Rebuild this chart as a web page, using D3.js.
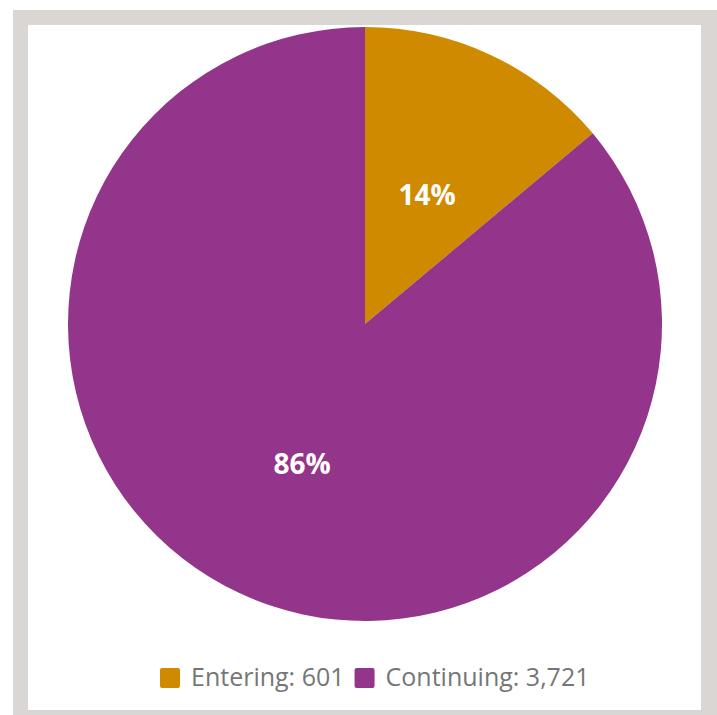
<!DOCTYPE html>
<html><head><meta charset="utf-8">
<script src="https://cdn.jsdelivr.net/npm/d3@7"></script>
<style>html,body{margin:0;padding:0;background:#fff;}</style>
</head><body>
<script>
const categories = ["Entering", "Continuing"];
const values = [601, 3721];
const colors = ["#d08a00", "#93358a"];

const W = 717, H = 715;
const svg = d3.select("body").append("svg").attr("width", W).attr("height", H);
svg.append("rect").attr("x", 13).attr("y", 10).attr("width", W - 13).attr("height", H - 10).attr("fill", "#dad6d3");
svg.append("rect").attr("x", 28).attr("y", 25).attr("width", 673).attr("height", 685).attr("fill", "#ffffff");

const cx = 365, cy = 324, r = 297;
const total = d3.sum(values);
const pie = d3.pie().sort(null).value(d => d)(values);
const arc = d3.arc().innerRadius(0).outerRadius(r);
const g = svg.append("g").attr("transform", `translate(${cx},${cy})`);
g.selectAll("path").data(pie).join("path").attr("d", arc).attr("fill", (d, i) => colors[i]);
const labelPos = [[62, -130], [-63, 139]];
g.selectAll("text").data(pie).join("text")
  .attr("x", (d, i) => labelPos[i][0]).attr("y", (d, i) => labelPos[i][1])
  .attr("text-anchor", "middle").attr("dominant-baseline", "central")
  .attr("fill", "#fff").attr("font-family", "'Open Sans', sans-serif").attr("font-weight", "bold").attr("font-size", 28)
  .text(d => Math.round(d.value / total * 100) + "%");

const legend = svg.append("g");
const labels = [categories[0] + ": " + d3.format(",")(values[0]), categories[1] + ": " + d3.format(",")(values[1])];
let x = 160;
labels.forEach((t, i) => {
  legend.append("rect").attr("x", x).attr("y", 668).attr("width", 20).attr("height", 20).attr("rx", 2).attr("fill", colors[i]);
  const tx = legend.append("text").attr("x", x + 31).attr("y", 676).attr("dominant-baseline", "central")
    .attr("font-family", "'Open Sans', sans-serif").attr("font-size", 25).attr("fill", "#767676").text(t);
  x = x + 31 + tx.node().getComputedTextLength() + 10;
});
</script>
</body></html>
